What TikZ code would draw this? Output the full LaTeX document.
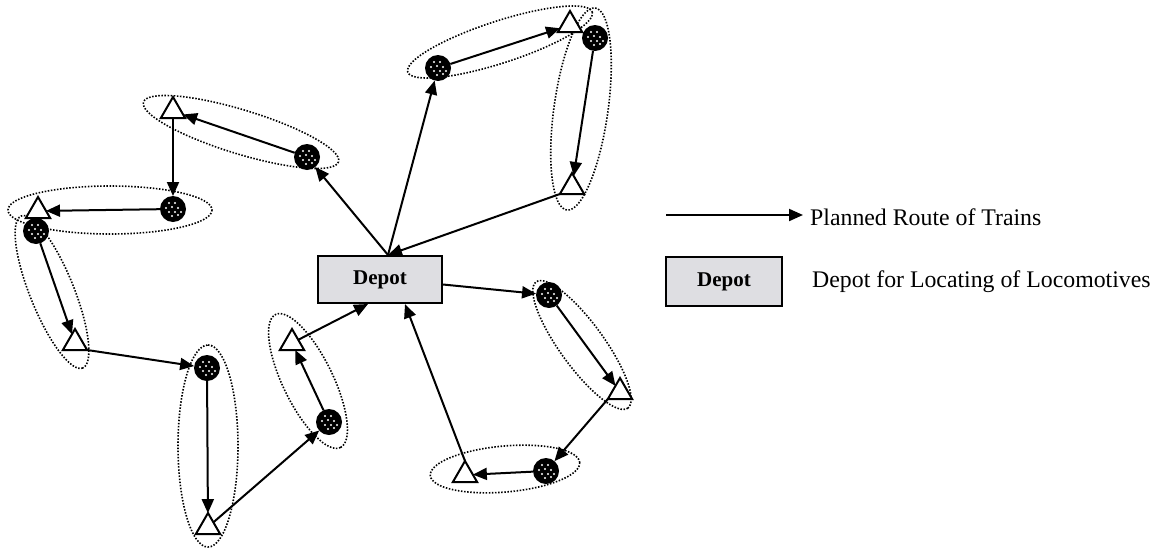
\documentclass[tikz,border=0pt]{standalone}
\usepackage{fontspec}
\setmainfont{Liberation Serif}
\usetikzlibrary{arrows.meta,shapes.geometric,calc}
\definecolor{depotgray}{RGB}{222,222,226}
\tikzset{
  loco/.style={circle, fill=black, minimum size=26pt, inner sep=0pt, outer sep=0pt,
    path picture={
      \foreach \p in {(-4,-6),(2,-6),(-7,-1),(-1,-2),(5,-1),(-4,3),(2,3),(-1,7),(5,6),(8,3)}
        \fill[white] (path picture bounding box.center) ++\p circle (1.05pt);
    }},
  stn/.style={regular polygon, regular polygon sides=3, draw=black, line width=2pt,
    fill=white, minimum size=28pt, inner sep=0pt, outer sep=0pt},
  route/.style={line width=2pt, -{Triangle[length=14pt,width=12pt]}},
  grp/.style={line width=1.6pt, dash pattern=on 1.5pt off 1.6pt},
  depotbox/.style={draw=black, line width=2pt, fill=depotgray, minimum width=124pt,
    minimum height=47pt, inner sep=0pt, font=\fontsize{21}{24}\selectfont\bfseries},
  legtext/.style={font=\fontsize{23.8}{28}\selectfont, anchor=base west, inner sep=0pt}
}
\begin{document}
\begin{tikzpicture}[x=1pt,y=-1pt]
\useasboundingbox (0,0) rectangle (1159,549);
% group ellipses
\draw[grp] (500,42) ellipse [x radius=97, y radius=21, rotate=18];
\draw[grp] (581,109) ellipse [x radius=102, y radius=27, rotate=82];
\draw[grp] (241,132) ellipse [x radius=102, y radius=22, rotate=-17];
\draw[grp] (110,210) ellipse [x radius=102, y radius=24, rotate=0];
\draw[grp] (52,292) ellipse [x radius=82, y radius=22, rotate=-68];
\draw[grp] (208,446) ellipse [x radius=101, y radius=30, rotate=90];
\draw[grp] (308,381) ellipse [x radius=74, y radius=25, rotate=-64];
\draw[grp] (582,345) ellipse [x radius=78, y radius=22, rotate=-54];
\draw[grp] (505,469) ellipse [x radius=75, y radius=23, rotate=5];
% depot
\node[depotbox] (depot) at (380,279.5) {Depot};
% locomotives (circles) and stations (triangles)
\node[loco] (C1) at (438,68) {};
\node[stn]  (T1) at (570,25) {};
\node[loco] (C2) at (595,38) {};
\node[stn]  (T2) at (572,187) {};
\node[loco] (C3) at (307,157) {};
\node[stn]  (T3) at (173,111) {};
\node[loco] (C4) at (173,209) {};
\node[stn]  (T4) at (38,211) {};
\node[loco] (C5) at (36,231) {};
\node[stn]  (T5) at (75,343) {};
\node[loco] (C6) at (207,368) {};
\node[stn]  (T6) at (208,527) {};
\node[loco] (C7) at (329,422) {};
\node[stn]  (T7) at (292,343) {};
\node[loco] (C8) at (549,295) {};
\node[stn]  (T8) at (620,392) {};
\node[loco] (C9) at (546,471) {};
\node[stn]  (T9) at (465,475) {};
% anchor points on the depot
\coordinate (dtop) at ([xshift=8pt]depot.north);
\coordinate (dright) at ([yshift=-5pt]depot.east);
\coordinate (dbl) at ([xshift=-12pt]depot.south);
\coordinate (dbr) at ([xshift=25pt]depot.south);
% routes
\draw[route] (dtop) -- (C1);
\draw[route] (C1) -- (T1);
\draw[route] (C2) -- (T2);
\draw[route] (T2.corner 2) -- (dtop);
\draw[route] (dtop) -- (C3);
\draw[route] (C3) -- (T3);
\draw[route] (T3) -- (C4);
\draw[route] (C4) -- (T4);
\draw[route] (C5) -- (T5);
\draw[route] (T5.corner 3) -- (C6);
\draw[route] (C6) -- (T6);
\draw[route] (T6) -- (C7);
\draw[route] (C7) -- (T7);
\draw[route] (T7) -- (dbl);
\draw[route] (dright) -- (C8);
\draw[route] (C8) -- (T8);
\draw[route] (T8.corner 2) -- (C9);
\draw[route] (C9) -- (T9);
\draw[route] (T9.corner 1) -- (dbr);
% legend
\coordinate (l1) at (666,215);
\coordinate (l2) at (803,215);
\draw[route] (l1) -- (l2);
\node[legtext] (lt1) at (810,225) {Planned Route of Trains};
\node[depotbox, minimum width=116pt, minimum height=49pt] (ldepot) at (724,281.5) {Depot};
\node[legtext] (lt2) at (812,287) {Depot for Locating of Locomotives};
\end{tikzpicture}
\end{document}
